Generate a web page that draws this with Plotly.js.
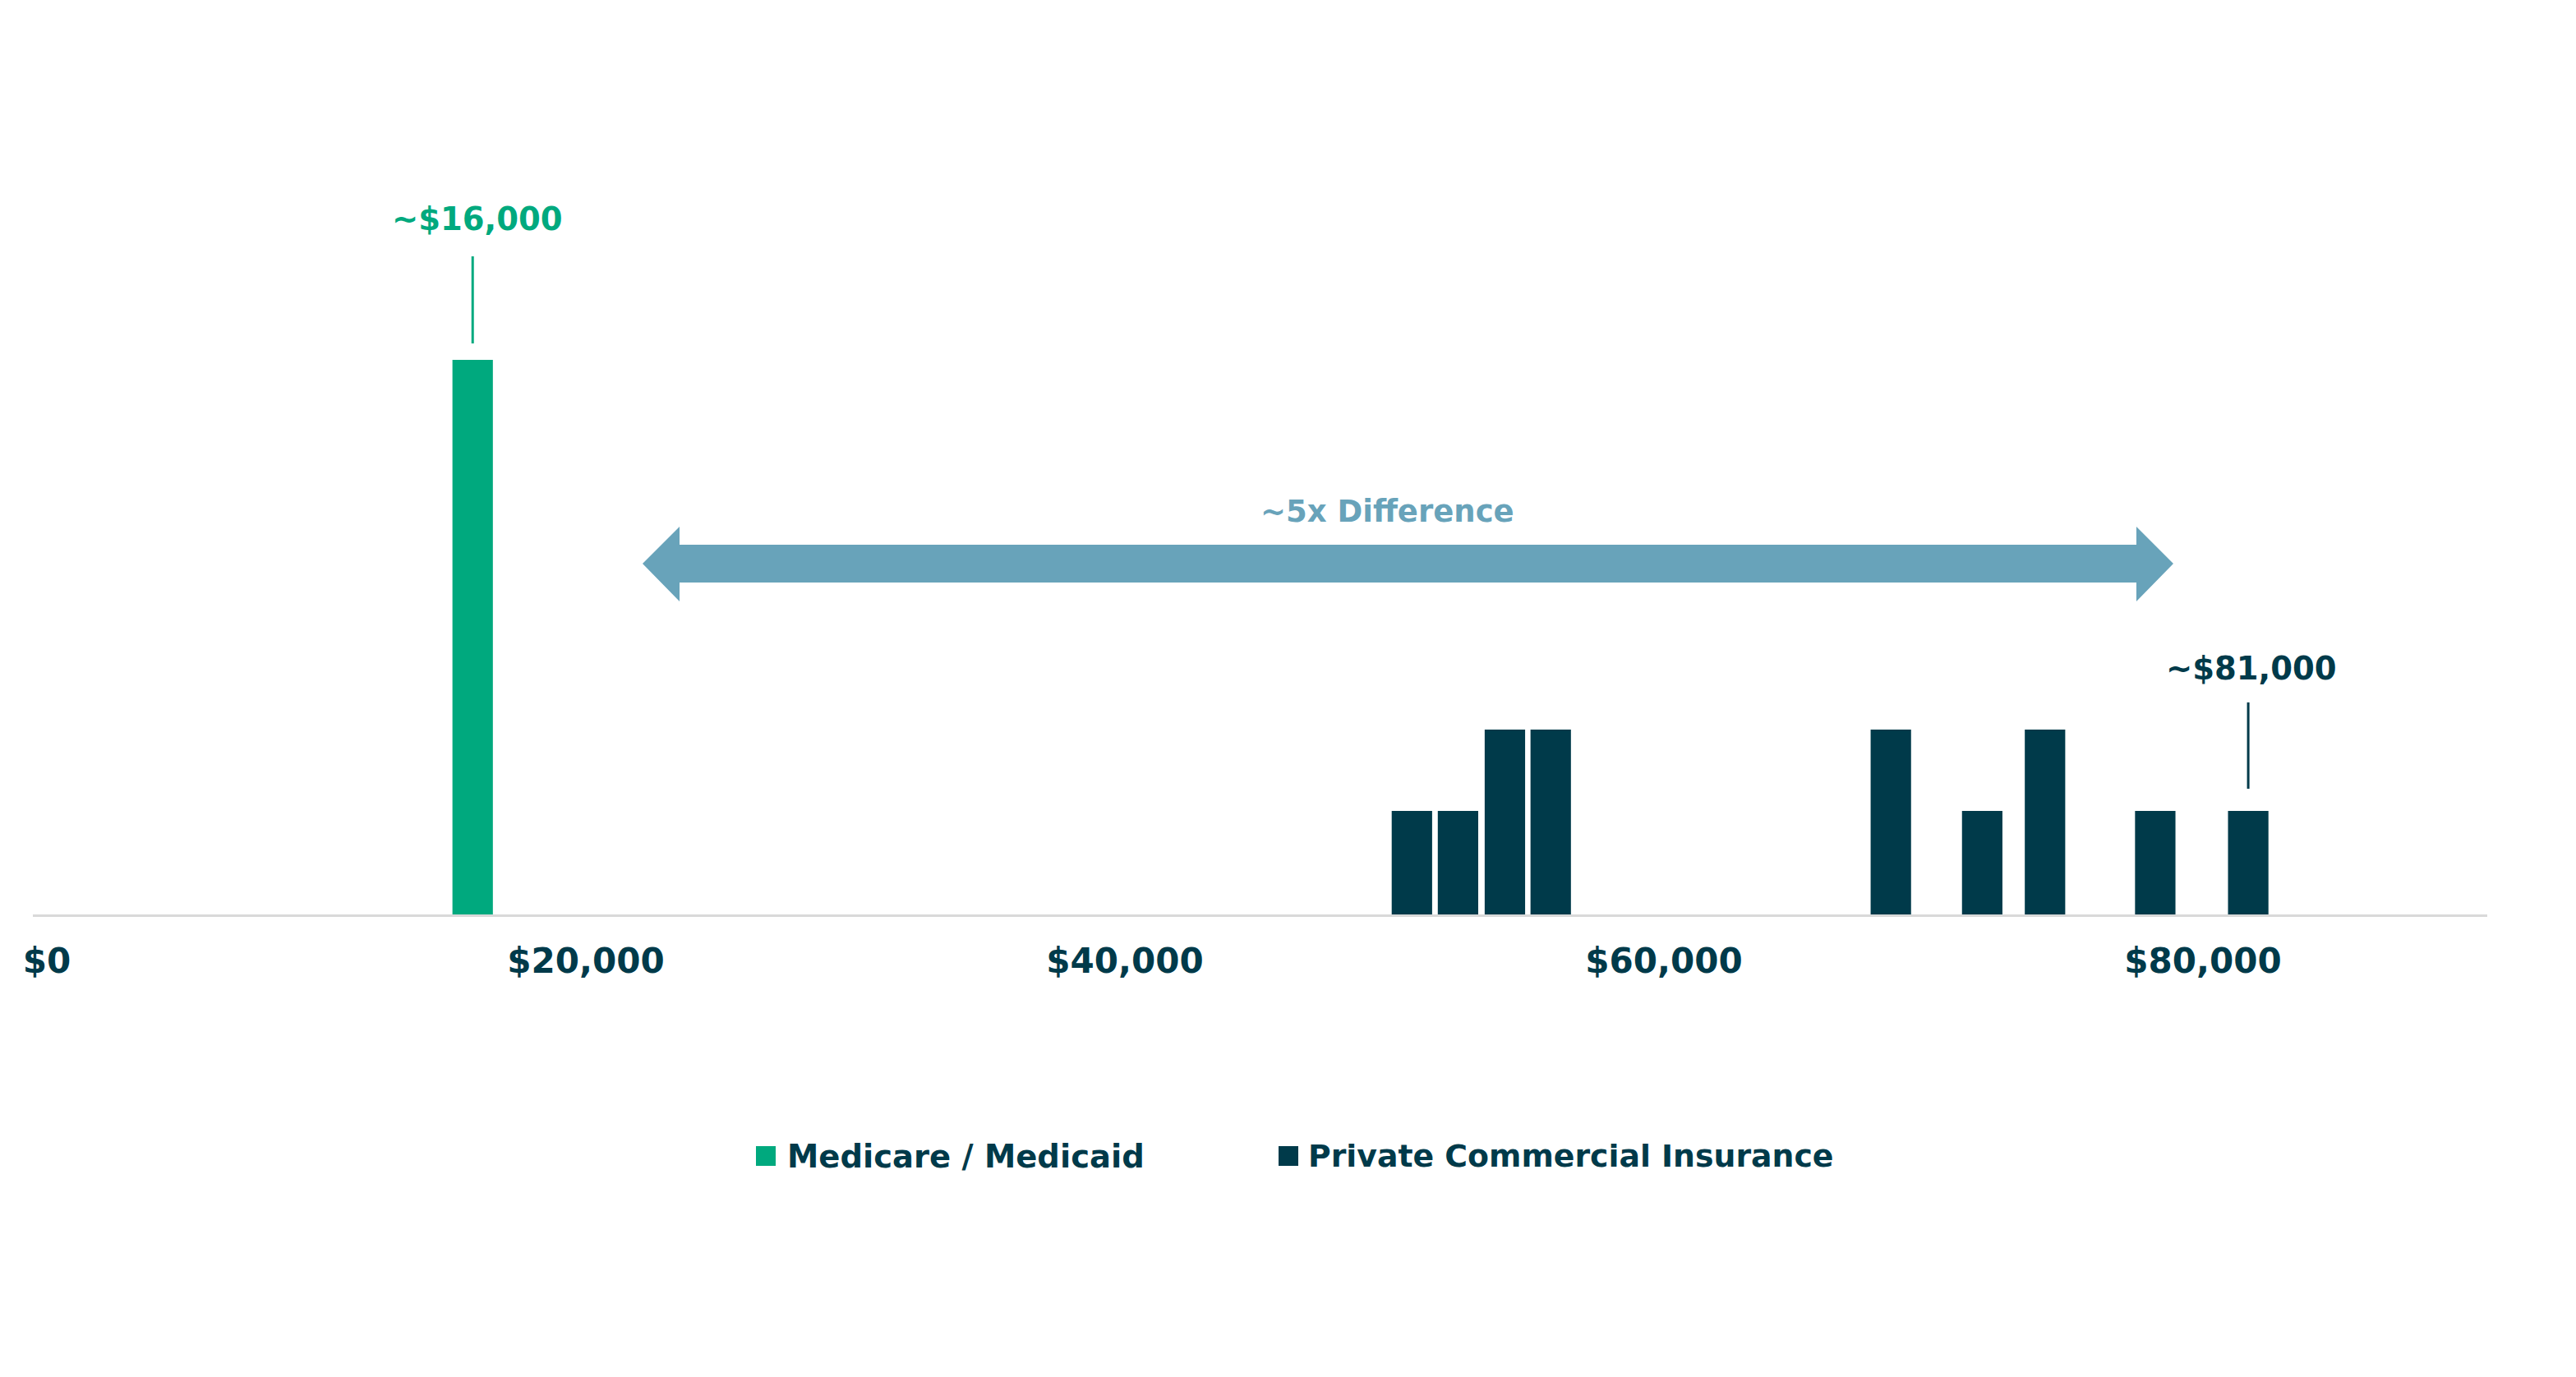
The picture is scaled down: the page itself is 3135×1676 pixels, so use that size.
<!DOCTYPE html>
<html><head><meta charset="utf-8">
<script src="https://cdn.plot.ly/plotly-3.0.1.min.js"></script>
<style>html,body{margin:0;padding:0;background:#fff;} #chart{width:3135px;height:1676px;}</style>
</head><body><div id="chart"></div>
<script>
// ---- data ----
const seriesNames = ['Medicare / Medicaid', 'Private Commercial Insurance'];
const medicarePrices = [15800];
const medicareHeights = [3.0];
const privatePrices = [50650, 52360, 54100, 55800, 68420, 71810, 74140, 78230, 81680];
const privateHeights = [0.56, 0.56, 1, 1, 1, 0.56, 1, 0.56, 0.56];
const valueLabels = ['~$16,000', '~$81,000'];
const differenceLabel = '~5x Difference';
const tickValues = [0, 20000, 40000, 60000, 80000];
const tickLabels = ['$0', '$20,000', '$40,000', '$60,000', '$80,000'];

// ---- style ----
const GREEN = '#00A97E', DARK = '#003A4A', ARROW = '#68A3BA', AXIS = '#D9D9D9';
const FONT = 'DejaVu Sans';
const W = 3135, H = 1676;
const M = {l: 40, r: 108, t: 213, b: 563};
const plotW = W - M.l - M.r, plotH = H - M.t - M.b;
const px2paperX = p => (p - M.l) / plotW;
const px2paperY = p => (H - M.b - p) / plotH;

const barWidth = 1500;
const traces = [
  {type: 'bar', name: seriesNames[0], x: medicarePrices, y: medicareHeights,
   width: medicarePrices.map(() => barWidth), marker: {color: GREEN, line: {width: 0}}, showlegend: false},
  {type: 'bar', name: seriesNames[1], x: privatePrices, y: privateHeights,
   width: privatePrices.map(() => barWidth), marker: {color: DARK, line: {width: 0}}, showlegend: false}
];

const lastPrivate = privatePrices[privatePrices.length - 1];
const arrow = {x: [22104, 23476, 77530, 78902], yShaft: [1.796, 2.0], yHead: [1.693, 2.098]};
const yMid = (arrow.yShaft[0] + arrow.yShaft[1]) / 2;
const arrowPath = `M${arrow.x[0]},${yMid} L${arrow.x[1]},${arrow.yHead[1]} L${arrow.x[1]},${arrow.yShaft[1]} ` +
  `L${arrow.x[2]},${arrow.yShaft[1]} L${arrow.x[2]},${arrow.yHead[1]} L${arrow.x[3]},${yMid} ` +
  `L${arrow.x[2]},${arrow.yHead[0]} L${arrow.x[2]},${arrow.yShaft[0]} L${arrow.x[1]},${arrow.yShaft[0]} ` +
  `L${arrow.x[1]},${arrow.yHead[0]} Z`;

const shapes = [
  {type: 'line', xref: 'x', yref: 'y', x0: medicarePrices[0], x1: medicarePrices[0], y0: 3.089, y1: 3.56,
   line: {color: GREEN, width: 3}},
  {type: 'line', xref: 'x', yref: 'y', x0: lastPrivate, x1: lastPrivate, y0: 0.68, y1: 1.147,
   line: {color: DARK, width: 3}},
  {type: 'path', xref: 'x', yref: 'y', path: arrowPath, fillcolor: ARROW, line: {width: 0}},
  // legend swatches
  {type: 'rect', xref: 'paper', yref: 'paper', x0: px2paperX(920), x1: px2paperX(944),
   y0: px2paperY(1419), y1: px2paperY(1395), fillcolor: GREEN, line: {width: 0}},
  {type: 'rect', xref: 'paper', yref: 'paper', x0: px2paperX(1556), x1: px2paperX(1580),
   y0: px2paperY(1419), y1: px2paperY(1395), fillcolor: DARK, line: {width: 0}}
];

const annotations = [
  {xref: 'x', yref: 'y', x: medicarePrices[0], y: 3.764, text: valueLabels[0], showarrow: false,
   xanchor: 'center', yanchor: 'middle', xshift: 6, font: {family: FONT, size: 38.5, color: GREEN, weight: 700}},
  {xref: 'x', yref: 'y', x: lastPrivate, y: 1.333, text: valueLabels[1], showarrow: false,
   xanchor: 'center', yanchor: 'middle', xshift: 4, font: {family: FONT, size: 38.5, color: DARK, weight: 700}},
  {xref: 'x', yref: 'y', x: 49726, y: 2.18, text: differenceLabel, showarrow: false,
   xanchor: 'center', yanchor: 'middle', font: {family: FONT, size: 37, color: ARROW, weight: 700}},
  {xref: 'paper', yref: 'paper', x: px2paperX(956), y: px2paperY(1407), text: seriesNames[0], showarrow: false,
   xanchor: 'left', yanchor: 'middle', font: {family: FONT, size: 38.5, color: DARK, weight: 700}},
  {xref: 'paper', yref: 'paper', x: px2paperX(1590), y: px2paperY(1407), text: seriesNames[1], showarrow: false,
   xanchor: 'left', yanchor: 'middle', font: {family: FONT, size: 37.8, color: DARK, weight: 700}}
];

const layout = {
  width: W, height: H,
  margin: M,
  paper_bgcolor: '#ffffff', plot_bgcolor: '#ffffff',
  barmode: 'overlay',
  showlegend: false,
  hovermode: false,
  font: {family: FONT, color: DARK},
  xaxis: {
    range: [-518, 90549], tickmode: 'array', tickvals: tickValues, ticktext: tickLabels,
    showgrid: false, zeroline: false, showline: true, linecolor: AXIS, linewidth: 3,
    ticks: '', ticklabelstandoff: 18,
    tickfont: {family: FONT, size: 42, color: DARK, weight: 700}, fixedrange: true
  },
  yaxis: {range: [0, 4], visible: false, showgrid: false, zeroline: false, fixedrange: true},
  shapes: shapes,
  annotations: annotations
};

Plotly.newPlot('chart', traces, layout, {displayModeBar: false, staticPlot: true});
</script>
</body></html>
